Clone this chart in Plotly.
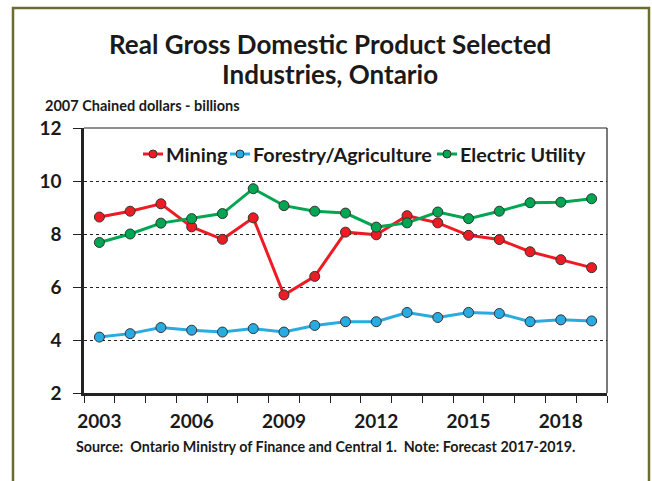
import plotly.graph_objects as go

# Real GDP by selected industry, Ontario (2007 chained dollars, billions)
years = list(range(2003, 2020))
mining = [8.64, 8.86, 9.14, 8.27, 7.80, 8.61, 5.70, 6.40, 8.07, 7.97, 8.69, 8.42, 7.95, 7.79, 7.33, 7.03, 6.73]
forestry_agriculture = [4.11, 4.24, 4.47, 4.37, 4.30, 4.43, 4.30, 4.55, 4.69, 4.69, 5.04, 4.85, 5.04, 5.00, 4.69, 4.76, 4.72]
electric_utility = [7.68, 8.00, 8.41, 8.58, 8.77, 9.71, 9.07, 8.86, 8.79, 8.26, 8.42, 8.83, 8.58, 8.86, 9.18, 9.20, 9.33]

series_names = ["Mining", "Forestry/Agriculture", "Electric Utility"]
series_values = [mining, forestry_agriculture, electric_utility]
series_colors = ["#ED1C24", "#29ABE2", "#00A651"]

x_tick_labels = [2003, 2006, 2009, 2012, 2015, 2018]
y_ticks = [2, 4, 6, 8, 10, 12]

FONT = "Lato"
W, H = 652, 481
L, R, T, B = 84, 45, 128, 88
PW, PH = W - L - R, H - T - B


def px_x(px):
    return (px - L) / PW


def px_y(py):
    return (H - B - py) / PH


fig = go.Figure()
for name, vals, col in zip(series_names, series_values, series_colors):
    fig.add_trace(go.Scatter(
        x=years, y=vals, name=name, mode="lines+markers",
        line=dict(color=col, width=3),
        marker=dict(size=10, color=col, line=dict(color="#333333", width=1)),
        showlegend=False,
    ))

shapes = []
# outer frame
shapes.append(dict(type="rect", xref="paper", yref="paper",
                   x0=px_x(13), x1=px_x(649), y0=px_y(520), y1=px_y(8),
                   line=dict(color="#6B6B33", width=2.5), layer="below"))
# top and right borders of plot box
shapes.append(dict(type="line", xref="paper", yref="paper", x0=0, x1=1, y0=1, y1=1,
                   line=dict(color="#222222", width=1.2)))
shapes.append(dict(type="line", xref="paper", yref="paper", x0=1, x1=1, y0=0, y1=1,
                   line=dict(color="#222222", width=1.2)))

annotations = [
    dict(text="Real Gross Domestic Product Selected", x=px_x(330), y=px_y(44),
         xref="paper", yref="paper", showarrow=False, xanchor="center", yanchor="middle",
         font=dict(family=FONT, size=26, color="#1A1A1A", weight="bold")),
    dict(text="Industries, Ontario", x=px_x(330), y=px_y(74),
         xref="paper", yref="paper", showarrow=False, xanchor="center", yanchor="middle",
         font=dict(family=FONT, size=26, color="#1A1A1A", weight="bold")),
    dict(text="2007 Chained dollars - billions", x=px_x(43), y=px_y(105),
         xref="paper", yref="paper", showarrow=False, xanchor="left", yanchor="middle",
         font=dict(family=FONT, size=14.5, color="#1A1A1A", weight="bold")),
    dict(text="Source:  Ontario Ministry of Finance and Central 1.  Note: Forecast 2017-2019.",
         x=px_x(325), y=px_y(446), xref="paper", yref="paper", showarrow=False,
         xanchor="center", yanchor="middle",
         font=dict(family=FONT, size=14.3, color="#1A1A1A", weight="bold")),
]

# legend row: line segment, marker and label for each series
legend_starts = [143, 230, 437]
ly = 154
for name, col, sx in zip(series_names, series_colors, legend_starts):
    shapes.append(dict(type="line", xref="paper", yref="paper",
                       x0=px_x(sx), x1=px_x(sx + 20), y0=px_y(ly), y1=px_y(ly),
                       line=dict(color=col, width=3)))
    r = 4
    shapes.append(dict(type="circle", xref="paper", yref="paper",
                       x0=px_x(sx + 10 - r), x1=px_x(sx + 10 + r),
                       y0=px_y(ly + r), y1=px_y(ly - r),
                       fillcolor=col, line=dict(color="#333333", width=1)))
    annotations.append(dict(text=name, x=px_x(sx + 21), y=px_y(ly), xref="paper", yref="paper",
                            showarrow=False, xanchor="left", yanchor="middle",
                            font=dict(family=FONT, size=19.8, color="#1A1A1A", weight="bold")))

fig.update_layout(
    width=W, height=H,
    margin=dict(l=L, r=R, t=T, b=B),
    paper_bgcolor="white", plot_bgcolor="white",
    shapes=shapes, annotations=annotations,
    font=dict(family=FONT, color="#1A1A1A"),
)

fig.update_xaxes(
    range=[2002.5, 2019.5], tickvals=x_tick_labels, ticktext=[str(v) for v in x_tick_labels],
    ticks="", showgrid=False, zeroline=False,
    showline=True, linecolor="#222222", linewidth=2.5,
    tickfont=dict(family=FONT, size=19, weight="bold"),
    ticklabelstandoff=9,
    minor=dict(tick0=2002.5, dtick=1, ticks="outside", ticklen=7, tickcolor="#222222",
               tickwidth=1.2, showgrid=False),
)
fig.update_yaxes(
    range=[2, 12], tickvals=y_ticks, ticks="outside", ticklen=8, tickcolor="#222222",
    tickwidth=1.2, showgrid=True, gridcolor="#222222", gridwidth=1, griddash="dot",
    zeroline=False, showline=True, linecolor="#222222", linewidth=2.5,
    tickfont=dict(family=FONT, size=19, weight="bold"),
    ticklabelstandoff=8,
)

fig.write_html("out.html")
